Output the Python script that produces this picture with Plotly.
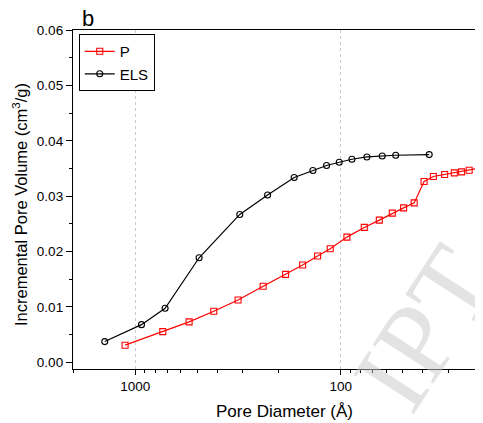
import math
import plotly.graph_objects as go

# ---- data ----
p_diam = [1121, 735, 547, 415, 316, 238.5, 185.5, 153.3, 129.6, 112.5, 93.3, 76.8,
          64.9, 56.1, 49.4, 43.9, 39.3, 35.4, 31.2, 28.0, 25.8, 23.7, 21.0]
p_vol = [0.0031, 0.00555, 0.0073, 0.00923, 0.01126, 0.01373, 0.01589, 0.01757,
         0.01919, 0.0205, 0.02261, 0.02436, 0.02568, 0.02694, 0.02789, 0.02879,
         0.03265, 0.03355, 0.03391, 0.0342, 0.03438, 0.03468, 0.0351]

els_diam = [1408, 933, 716, 489, 310, 227, 168.5, 136.6, 117.2, 101.7, 88.2, 74.6,
            62.8, 54.0, 37.1]
els_vol = [0.00375, 0.00681, 0.00977, 0.01888, 0.0267, 0.0302, 0.03337, 0.03463,
           0.03553, 0.03613, 0.03667, 0.03708, 0.03726, 0.03739, 0.03751]

x_major = [1000, 100]
x_major_text = ["1000", "100"]
x_minor = [2000, 900, 800, 700, 600, 500, 400, 300, 200, 90, 80, 70, 60, 50, 40, 30, 20]

FONT = "Liberation Sans, Arial, sans-serif"

fig = go.Figure()
fig.add_trace(go.Scatter(
    x=p_diam, y=p_vol, name="P", mode="lines+markers",
    line=dict(color="#ff0000", width=1.2),
    marker=dict(symbol="square-open", size=6, color="#ff0000", line=dict(width=1.1)),
))
fig.add_trace(go.Scatter(
    x=els_diam, y=els_vol, name="ELS", mode="lines+markers",
    line=dict(color="#000000", width=1.2),
    marker=dict(symbol="circle-open", size=6, color="#000000", line=dict(width=1.1)),
))

# the page body adds an 8 px offset, so the figure is 8 px smaller than the window
fig.update_layout(
    width=475, height=415,
    margin=dict(l=65, r=0, t=22, b=54, autoexpand=False),
    paper_bgcolor="white", plot_bgcolor="white",
    font=dict(family=FONT, color="#000000", size=13),
    showlegend=True,
    legend=dict(
        x=0.014, y=0.988, xanchor="left", yanchor="top",
        bordercolor="#000000", borderwidth=1, bgcolor="white",
        font=dict(family=FONT, size=15),
        tracegroupgap=0, itemwidth=30,
    ),
    xaxis=dict(
        type="log", automargin=False,
        range=[math.log10(2010), math.log10(20.3)],
        tickmode="array", tickvals=x_major, ticktext=x_major_text,
        ticks="outside", ticklen=5, tickwidth=1, tickcolor="#000",
        showline=True, linecolor="#000", linewidth=1.3, mirror=True,
        showgrid=True, gridcolor="#c8c8c8", griddash="dot", gridwidth=1,
        zeroline=False,
        minor=dict(tickmode="array", tickvals=x_minor, ticks="outside",
                   ticklen=3, tickwidth=1, tickcolor="#000", showgrid=False),
        tickfont=dict(family=FONT, size=13.5),
    ),
    yaxis=dict(
        range=[-0.0012, 0.06], automargin=False,
        tickmode="linear", tick0=0, dtick=0.01, tickformat=".2f",
        ticks="outside", ticklen=6, tickwidth=1, tickcolor="#000",
        showline=True, linecolor="#000", linewidth=1.3, mirror=False,
        showgrid=False, zeroline=False,
        minor=dict(dtick=0.005, ticks="outside", ticklen=3, tickwidth=1,
                   tickcolor="#000", showgrid=False),
        tickfont=dict(family=FONT, size=13.5),
    ),
    annotations=[
        dict(text="Pore Diameter (Å)", xref="paper", yref="paper", x=0.515, y=-0.124,
             xanchor="center", yanchor="middle", showarrow=False,
             font=dict(family=FONT, size=17, color="#000")),
        dict(text="Incremental Pore Volume (cm<sup>3</sup>/g)", xref="paper", yref="paper",
             x=-0.129, y=0.484, xanchor="center", yanchor="middle", showarrow=False,
             textangle=-90, font=dict(family=FONT, size=16.5, color="#000")),
        dict(text="b", xref="paper", yref="paper", x=0.018, y=0.991,
             xanchor="left", yanchor="bottom", showarrow=False,
             font=dict(family=FONT, size=22, color="#000")),
        dict(text="IPT", xref="paper", yref="paper", x=0.86, y=0.12,
             xanchor="center", yanchor="middle", showarrow=False, textangle=-57,
             font=dict(family="Liberation Serif, serif", size=110, color="rgba(200,200,200,0.5)")),
    ],
)

fig.write_html("out.html")
